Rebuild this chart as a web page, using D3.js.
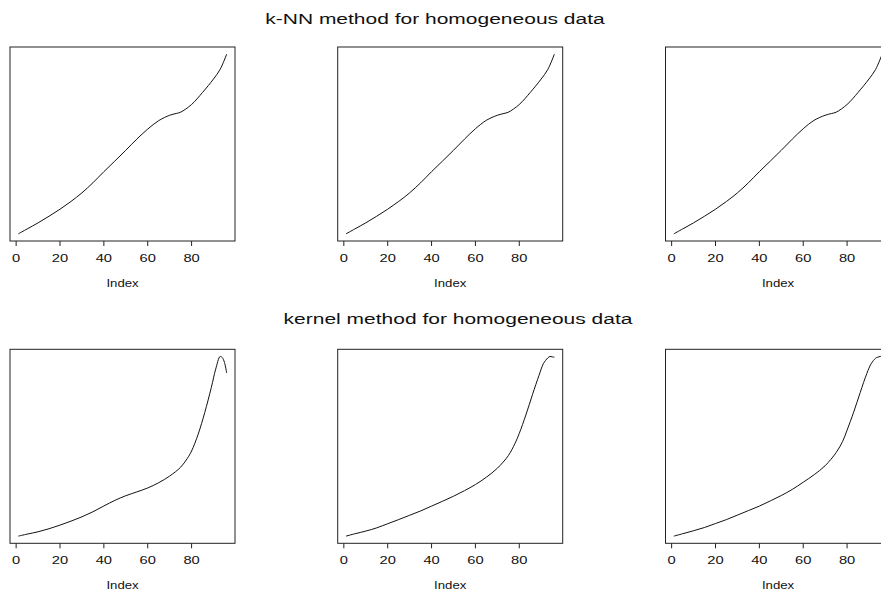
<!DOCTYPE html>
<html>
<head>
<meta charset="UTF-8">
<title>k-NN and kernel method for homogeneous data</title>
<style>
  body { margin: 0; background: #fff; }
  svg { display: block; font-family: "Liberation Sans", Arial, sans-serif; }
</style>
</head>
<body>
<svg></svg>
<script src="https://d3js.org/d3.v7.min.js"></script>
<script>

let width = 881, height = 592;

let idxKnn = [1, 5, 10, 15, 20, 25, 30, 35, 40, 45, 50, 55, 60, 65, 70, 73, 75, 80, 85, 90, 93, 96];
let knnA = [0, 0.027, 0.061, 0.098, 0.137, 0.18, 0.228, 0.284, 0.346, 0.405, 0.465, 0.527, 0.583, 0.63, 0.66, 0.67, 0.677, 0.72, 0.787, 0.862, 0.915, 1.0];
let knnB = [0, 0.027, 0.061, 0.098, 0.137, 0.18, 0.228, 0.284, 0.346, 0.405, 0.465, 0.527, 0.585, 0.632, 0.66, 0.67, 0.677, 0.72, 0.787, 0.862, 0.915, 1.0];
let knnC = [0, 0.027, 0.061, 0.098, 0.137, 0.18, 0.228, 0.284, 0.346, 0.405, 0.465, 0.527, 0.585, 0.632, 0.66, 0.67, 0.677, 0.72, 0.787, 0.862, 0.915, 1.0];

let idxKer = [1, 5, 10, 15, 20, 25, 30, 35, 40, 45, 50, 55, 60, 65, 70, 75, 78, 80, 83, 86, 89, 91, 93, 94, 95, 96];
let kerA = [0, 0.011, 0.024, 0.041, 0.061, 0.083, 0.107, 0.135, 0.167, 0.198, 0.224, 0.245, 0.267, 0.296, 0.333, 0.382, 0.43, 0.472, 0.565, 0.685, 0.824, 0.926, 0.996, 0.99, 0.963, 0.904];
let kerB = [0, 0.013, 0.028, 0.046, 0.069, 0.092, 0.116, 0.14, 0.167, 0.194, 0.222, 0.253, 0.287, 0.328, 0.378, 0.448, 0.515, 0.572, 0.674, 0.787, 0.895, 0.96, 0.992, 1.0, 0.998, 0.996];
let kerC = [0, 0.013, 0.03, 0.048, 0.07, 0.092, 0.117, 0.142, 0.167, 0.196, 0.226, 0.26, 0.3, 0.342, 0.392, 0.465, 0.528, 0.59, 0.69, 0.8, 0.905, 0.96, 0.99, 0.996, 1.0, 1.0];

let xTicks = [0, 20, 40, 60, 80];
let titles = ["k-NN method for homogeneous data", "kernel method for homogeneous data"];
let xLabel = "Index";

let rows = [
    {title: titles[0], idx: idxKnn, series: [knnA, knnB, knnC]},
    {title: titles[1], idx: idxKer, series: [kerA, kerB, kerC]}
];

let svg = d3.select("svg")
    .attr("width", width)
    .attr("height", height);

let colLeft = [10, 337.7, 665.5];
let panelW = 225, panelH = 194;
let rowTop = [47, 349.3];
let titlePos = [[435, 24], [458, 324]];
let stretch = 1.4;   // text in the picture is drawn wider than normal

// x range like R: 4% padding either side of 1..96
let n = 96;
let pad = 0.04 * (n - 1);

rows.forEach((row, r) => {
    svg.append("text")
        .attr("transform", `translate(${titlePos[r][0]},${titlePos[r][1]}) scale(${stretch},1)`)
        .attr("text-anchor", "middle")
        .attr("font-size", 15)
        .attr("fill", "#111")
        .text(row.title);

    row.series.forEach((vals, c) => {
        let x0 = colLeft[c], y0 = rowTop[r];
        let g = svg.append("g");

        let x = d3.scaleLinear()
            .domain([1 - pad, n + pad])
            .range([x0, x0 + panelW]);

        let ext = d3.extent(vals);
        let ypad = 0.04 * (ext[1] - ext[0]);
        let y = d3.scaleLinear()
            .domain([ext[0] - ypad, ext[1] + ypad])
            .range([y0 + panelH, y0]);

        let pts = row.idx.map((d, i) => [d, vals[i]]);

        let line = d3.line()
            .x(d => x(d[0]))
            .y(d => y(d[1]))
            .curve(d3.curveCatmullRom.alpha(0.5));

        g.append("path")
            .datum(pts)
            .attr("d", line)
            .attr("fill", "none")
            .attr("stroke", "#111")
            .attr("stroke-width", 1);

        g.append("rect")
            .attr("x", x0)
            .attr("y", y0)
            .attr("width", panelW)
            .attr("height", panelH)
            .attr("fill", "none")
            .attr("stroke", "#222")
            .attr("stroke-width", 1);

        g.selectAll(".tick")
            .data(xTicks)
            .enter()
            .append("line")
            .attr("x1", d => x(d))
            .attr("x2", d => x(d))
            .attr("y1", y0 + panelH)
            .attr("y2", y0 + panelH + 5)
            .attr("stroke", "#222");

        g.selectAll(".lab")
            .data(xTicks)
            .enter()
            .append("text")
            .attr("transform", d => `translate(${x(d)},${y0 + panelH + 21}) scale(${stretch},1)`)
            .attr("text-anchor", "middle")
            .attr("font-size", 10.5)
            .attr("fill", "#111")
            .text(d => d);

        g.append("text")
            .attr("transform", `translate(${x0 + panelW / 2},${y0 + panelH + 46}) scale(1.2,1)`)
            .attr("text-anchor", "middle")
            .attr("font-size", 11)
            .attr("fill", "#111")
            .text(xLabel);
    });
});

</script>
</body>
</html>
